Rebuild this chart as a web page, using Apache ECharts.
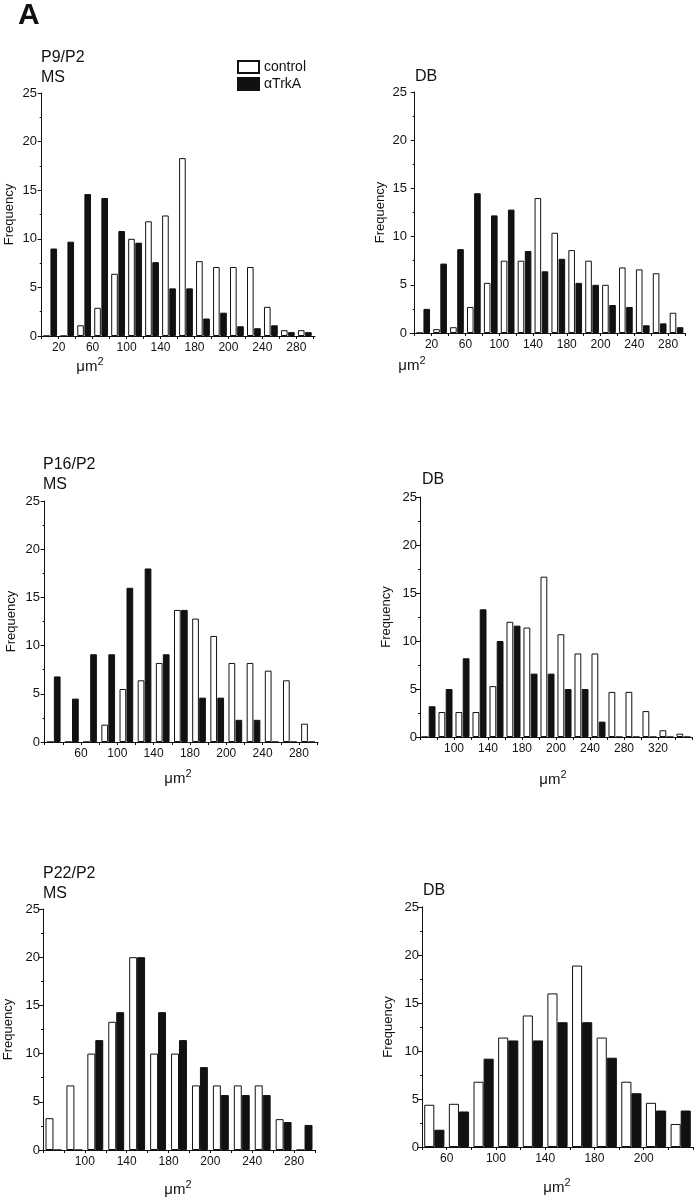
<!DOCTYPE html>
<html>
<head>
<meta charset="utf-8">
<script src="https://cdn.jsdelivr.net/npm/echarts@6/dist/echarts.min.js"></script>
<style>
html,body{margin:0;padding:0;background:#fff;}
#chart{width:697px;height:1199px;}
</style>
</head>
<body>
<div id="chart"></div>
<script>
// ---- Data (frequency per 20 µm² bin) ----
const seriesNames = ['control', 'αTrkA'];

const p9msControl = [0, 0, 1.1, 2.9, 6.4, 10.0, 11.8, 12.4, 18.3, 7.7, 7.1, 7.1, 7.1, 3.0, 0.6, 0.6];
const p9msTrkA    = [9.0, 9.7, 14.6, 14.2, 10.8, 9.6, 7.6, 4.9, 4.9, 1.8, 2.4, 1.0, 0.8, 1.1, 0.4, 0.4];
const p9msTicks   = ['20', '60', '100', '140', '180', '200', '240', '280'];

const p9dbControl = [0, 0.4, 0.6, 2.7, 5.2, 7.5, 7.5, 14.0, 10.4, 8.6, 7.5, 5.0, 6.8, 6.6, 6.2, 2.1];
const p9dbTrkA    = [2.5, 7.2, 8.7, 14.5, 12.2, 12.8, 8.5, 6.4, 7.7, 5.2, 5.0, 2.9, 2.7, 0.8, 1.0, 0.6];
const p9dbTicks   = ['20', '60', '100', '140', '180', '200', '240', '280'];

const p16msControl = [0, 0, 0, 1.8, 5.5, 6.4, 8.2, 13.7, 12.8, 11.0, 8.2, 8.2, 7.4, 6.4, 1.9];
const p16msTrkA    = [6.8, 4.5, 9.1, 9.1, 16.0, 18.0, 9.1, 13.7, 4.6, 4.6, 2.3, 2.3, 0, 0, 0];
const p16msTicks   = ['60', '100', '140', '180', '200', '240', '280'];

const p16dbControl = [0, 2.6, 2.6, 2.6, 5.3, 12.0, 11.4, 16.7, 10.7, 8.7, 8.7, 4.7, 4.7, 2.7, 0.7, 0.35];
const p16dbTrkA    = [3.2, 5.0, 8.2, 13.3, 10.0, 11.6, 6.6, 6.6, 5.0, 5.0, 1.6, 0, 0, 0, 0, 0];
const p16dbTicks   = ['100', '140', '180', '200', '240', '280', '320'];

const p22msControl = [3.3, 6.7, 10.0, 13.3, 20.0, 10.0, 10.0, 6.7, 6.7, 6.7, 6.7, 3.2, 0];
const p22msTrkA    = [0, 0, 11.4, 14.3, 20.0, 14.3, 11.4, 8.6, 5.7, 5.7, 5.7, 2.9, 2.6];
const p22msTicks   = ['100', '140', '180', '200', '240', '280'];

const p22dbControl = [4.4, 4.5, 6.8, 11.4, 13.7, 16.0, 18.9, 11.4, 6.8, 4.6, 2.4];
const p22dbTrkA    = [1.8, 3.7, 9.2, 11.1, 11.1, 13.0, 13.0, 9.3, 5.6, 3.8, 3.8];
const p22dbTicks   = ['60', '100', '140', '180', '200'];

const panelTitles = [['P9/P2', 'MS'], ['DB'], ['P16/P2', 'MS'], ['DB'], ['P22/P2', 'MS'], ['DB']];
const yName = 'Frequency';
const xName = 'μm';

const panelData = [
  [p9msControl, p9msTrkA, p9msTicks],
  [p9dbControl, p9dbTrkA, p9dbTicks],
  [p16msControl, p16msTrkA, p16msTicks],
  [p16dbControl, p16dbTrkA, p16dbTicks],
  [p22msControl, p22msTrkA, p22msTicks],
  [p22dbControl, p22dbTrkA, p22dbTicks]
];

// ---- Layout (pixels) ----
const layout = [
  {x0: 40,  y0: 93,  x1: 315, y1: 336,  min: -0.1,  max: 16.1,  first: 1, barW: '39%', gap: '8%', nameGap: 24, tx: 41,  ty: 50,  ux: 90,  uy: 367},
  {x0: 410, y0: 92,  x1: 685, y1: 333,  min: -0.28, max: 16,    first: 1, barW: '39%', gap: '8%', nameGap: 23, tx: 415, ty: 69,  ux: 412, uy: 366},
  {x0: 43,  y0: 501, x1: 318, y1: 742,  min: -0.09, max: 15.05, first: 2, barW: '37%', gap: '4%', nameGap: 25, tx: 43,  ty: 457, ux: 178, uy: 779},
  {x0: 420, y0: 497, x1: 692, y1: 737,  min: 0,     max: 16,    first: 2, barW: '40%', gap: '6%', nameGap: 27, tx: 422, ty: 472, ux: 553, uy: 780},
  {x0: 43,  y0: 909, x1: 315, y1: 1150, min: 0,     max: 13,    first: 2, barW: '38%', gap: '0%', nameGap: 28, tx: 43,  ty: 866, ux: 178, uy: 1190},
  {x0: 422, y0: 907, x1: 693, y1: 1147, min: 0,     max: 11,    first: 1, barW: '41%', gap: '0%', nameGap: 27, tx: 423, ty: 883, ux: 557, uy: 1188}
];

const FONT = '"Liberation Sans", Arial, Helvetica, sans-serif';
const INK = '#111';

const grids = [], xAxes = [], yAxes = [], series = [], graphics = [];

graphics.push({type: 'text', left: 18, top: 1, style: {text: 'A', font: 'bold 30px ' + FONT, fill: INK}});

panelData.forEach(function (pd, i) {
  const L = layout[i];
  const control = pd[0], trka = pd[1], ticks = pd[2];
  const nBins = control.length;
  grids.push({left: L.x0, top: L.y0, width: L.x1 - L.x0, height: L.y1 - L.y0});

  const tickVals = [];
  for (let k = 0; k <= nBins; k++) tickVals.push(k);
  const labelVals = ticks.map(function (t, k) { return L.first + 2 * k; });
  const labelMap = {};
  labelVals.forEach(function (v, k) { labelMap[v] = ticks[k]; });

  xAxes.push({
    type: 'value', gridIndex: i, min: L.min, max: L.max,
    axisLine: {show: true, lineStyle: {color: INK, width: 1}},
    axisTick: {show: true, length: 3, customValues: tickVals, lineStyle: {color: INK}},
    axisLabel: {show: true, customValues: labelVals, margin: 6, fontSize: 12, fontFamily: FONT, color: INK,
      formatter: function (v) { return labelMap[Math.round(v)] || ''; }},
    splitLine: {show: false}
  });
  yAxes.push({
    type: 'value', gridIndex: i, min: 0, max: 25, interval: 5,
    name: yName, nameLocation: 'middle', nameRotate: 90, nameGap: L.nameGap,
    nameTextStyle: {fontSize: 13, fontFamily: FONT, color: INK},
    axisLine: {show: true, lineStyle: {color: INK, width: 1}},
    axisTick: {show: true, length: 4, lineStyle: {color: INK}},
    minorTick: {show: true, splitNumber: 2, length: 2, lineStyle: {color: INK}},
    axisLabel: {fontSize: 13, fontFamily: FONT, color: INK, margin: 3},
    splitLine: {show: false}
  });

  series.push({
    name: seriesNames[0], type: 'bar', xAxisIndex: i, yAxisIndex: i,
    barWidth: L.barW, barGap: L.gap,
    itemStyle: {color: '#fff', borderColor: INK, borderWidth: 1},
    data: control.map(function (v, k) { return [k + 0.5, v]; })
  });
  series.push({
    name: seriesNames[1], type: 'bar', xAxisIndex: i, yAxisIndex: i,
    barWidth: L.barW, barGap: L.gap,
    itemStyle: {color: INK, borderColor: INK, borderWidth: 1},
    data: trka.map(function (v, k) { return [k + 0.5, v]; })
  });

  panelTitles[i].forEach(function (t, k) {
    graphics.push({type: 'text', left: L.tx, top: L.ty + 20 * k,
      style: {text: t, font: '16px ' + FONT, fill: INK}});
  });
  graphics.push({type: 'text', x: L.ux, y: L.uy,
    style: {text: '{a|' + xName + '}{b|2}', align: 'center', verticalAlign: 'middle',
      rich: {a: {fontSize: 15, fontFamily: FONT, fill: INK, color: INK},
             b: {fontSize: 11, fontFamily: FONT, fill: INK, color: INK, verticalAlign: 'top', padding: [0, 0, 10, 0]}}}});
});

const chart = echarts.init(document.getElementById('chart'), null, {renderer: 'canvas'});
chart.setOption({
  animation: false,
  backgroundColor: '#fff',
  legend: {
    data: seriesNames, orient: 'vertical', left: 232, top: 55, itemWidth: 21, itemHeight: 12, itemGap: 3,
    icon: 'rect', selectedMode: false,
    textStyle: {fontSize: 14, fontFamily: FONT, color: INK}
  },
  grid: grids,
  xAxis: xAxes,
  yAxis: yAxes,
  series: series,
  graphic: graphics
});
</script>
</body>
</html>
